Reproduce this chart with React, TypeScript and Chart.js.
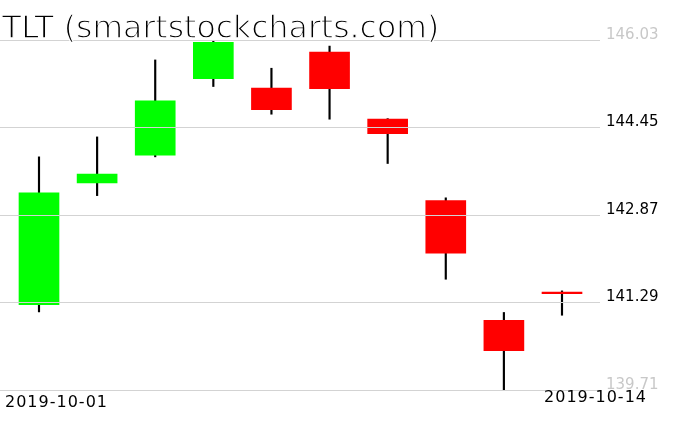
import React, { useEffect, useRef } from "react";
import { Chart, registerables } from "chart.js";

Chart.register(...registerables);

const titleText = "TLT (smartstockcharts.com)";
const dates = [
  "2019-10-01", "2019-10-02", "2019-10-03", "2019-10-04", "2019-10-07",
  "2019-10-08", "2019-10-09", "2019-10-10", "2019-10-11", "2019-10-14",
];
const openVals = [141.25, 143.45, 143.95, 145.33, 145.16, 145.81, 144.6, 143.13, 140.97, 141.48];
const closeVals = [143.27, 143.61, 144.93, 145.99, 144.77, 145.15, 144.34, 142.18, 140.42, 141.45];
const highVals = [143.92, 144.28, 145.67, 146.03, 145.52, 145.92, 144.61, 143.18, 141.11, 141.5];
const lowVals = [141.12, 143.22, 143.92, 145.19, 144.69, 144.6, 143.8, 141.71, 139.71, 141.06];
const yTicks = [139.71, 141.29, 142.87, 144.45, 146.03];

const UP = "#00ff00";
const DOWN = "#ff0000";

export default function App() {
  const ref = useRef<HTMLCanvasElement | null>(null);

  useEffect(() => {
    const canvas = ref.current;
    if (!canvas) return;

    const textPlugin = {
      id: "textPlugin",
      afterDraw(chart: any) {
        const ctx = chart.ctx;
        ctx.save();
        ctx.textBaseline = "alphabetic";
        ctx.textAlign = "left";
        ctx.font = "31.5px 'DejaVu Sans'";
        ctx.fillStyle = "#000";
        ctx.fillText(titleText, 2, 37.5);
        ctx.strokeStyle = "#fff";
        ctx.lineWidth = 1.3;
        ctx.strokeText(titleText, 2, 37.5);
        ctx.font = "16px 'DejaVu Sans'";
        try { (ctx as any).letterSpacing = "1px"; } catch (e) {}
        ctx.fillText(dates[0], 5, 406.5);
        ctx.textAlign = "right";
        ctx.fillText(dates[dates.length - 1], 647, 401.5);
        ctx.restore();
      },
    };

    const n = dates.length;
    const chart = new Chart(canvas, {
      type: "bar",
      data: {
        datasets: [
          {
            label: "body",
            data: dates.map((_, i) => ({ x: i, y: [openVals[i], closeVals[i]] })) as any,
            backgroundColor: dates.map((_, i) => (closeVals[i] >= openVals[i] ? UP : DOWN)),
            barThickness: 40,
            grouped: false,
            order: 0,
          },
          {
            label: "wick",
            data: dates.map((_, i) => ({ x: i, y: [lowVals[i], highVals[i]] })) as any,
            backgroundColor: "#000",
            barThickness: 1.5,
            grouped: false,
            order: 1,
          },
        ],
      },
      options: {
        animation: false,
        responsive: false,
        maintainAspectRatio: false,
        layout: { padding: { top: 40, bottom: 41, left: 0, right: 0 } },
        plugins: { legend: { display: false }, tooltip: { enabled: false }, title: { display: false } },
        scales: {
          x: {
            type: "linear",
            display: false,
            offset: false,
            min: -0.6711,
            max: -0.6711 + 600 / (523 / (n - 1)),
            grid: { display: false },
          },
          y: {
            type: "linear",
            position: "right",
            min: yTicks[0],
            max: yTicks[yTicks.length - 1],
            afterBuildTicks: (scale: any) => {
              scale.ticks = yTicks.map((v) => ({ value: v }));
            },
            afterFit: (scale: any) => {
              scale.width = 76;
            },
            border: { display: false },
            grid: { color: "#d3d3d3", lineWidth: 1, drawTicks: false, z: 1 },
            ticks: {
              padding: 6,
              labelOffset: -5,
              font: { family: "'DejaVu Sans'", size: 15 },
              color: (c: any) => (c.index === 0 || c.index === yTicks.length - 1 ? "#c8c8c8" : "#000"),
              callback: (v: any) => Number(v).toFixed(2),
            },
          },
        },
      },
      plugins: [textPlugin],
    });

    return () => chart.destroy();
  }, []);

  return (
    <div style={{ position: "fixed", left: 0, top: 0, width: 676, height: 431, background: "#fff" }}>
      <canvas ref={ref} width={676} height={431} style={{ display: "block" }} />
    </div>
  );
}
